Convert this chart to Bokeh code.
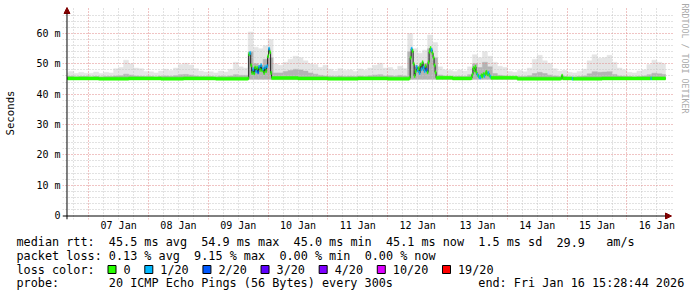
import numpy as np
import pandas as pd
from bokeh.plotting import figure
from bokeh.layouts import column
from bokeh.models import (Range1d, FixedTicker, Grid, Arrow, NormalHead, CustomJSTickFormatter,
                          DatetimeTickFormatter, ColumnDataSource, Title)
from bokeh.core.properties import value
from bokeh.embed import file_html
from bokeh.resources import INLINE

# ------------------------------------------------------------------ data
X_START = "2026-01-06 15:28:44"
X_END = "2026-01-16 15:28:44"
Y_TOP = 66.0

# smoke (spread of the 20 pings), 2-hour bins starting at SMOKE_START, in ms
SMOKE_START = "2026-01-06 14:00"
SMOKE_STEP_HOURS = 2
SMOKE_FLOOR = 44.9
smoke_hi = [
    47.0, 47.5, 46.8, 47.2, 46.9,                                              # 06 Jan
    46.9, 47.3, 46.8, 47.2, 47.0, 48.4, 48.8, 51.2, 50.0, 48.6, 48.4, 47.5,    # 07 Jan
    47.4, 47.0, 47.6, 48.2, 47.8, 48.6, 49.8, 50.2, 49.6, 48.4, 47.6, 47.3,    # 08 Jan
    47.4, 47.0, 47.6, 47.3, 48.2, 50.5, 49.0, 48.6, 60.5, 55.5, 55.0, 56.0,    # 09 Jan
    58.0, 50.0, 49.5, 50.5, 51.5, 52.5, 52.0, 51.0, 50.0, 49.8, 48.8, 49.5,    # 10 Jan
    48.2, 47.6, 48.4, 47.8, 48.0, 47.5, 48.3, 47.9, 48.6, 49.5, 50.2, 48.6,    # 11 Jan
    48.8, 48.0, 49.2, 48.5, 60.0, 55.0, 53.5, 54.5, 59.5, 57.0, 49.0, 48.0,    # 12 Jan
    47.8, 47.5, 48.0, 47.6, 49.0, 53.0, 52.0, 54.0, 52.5, 50.5, 49.2, 48.8,    # 13 Jan
    47.5, 47.2, 47.8, 47.4, 48.6, 51.5, 52.8, 51.0, 50.2, 48.4, 47.6, 47.8,    # 14 Jan
    47.2, 47.0, 47.5, 48.2, 51.0, 53.0, 51.8, 52.0, 52.8, 50.5, 48.6, 48.0,    # 15 Jan
    47.2, 47.0, 47.6, 48.0, 49.8, 51.2, 50.5, 50.0,                            # 16 Jan
]
smoke_mid = [
    45.8, 45.9, 45.7, 45.8, 45.8,
    45.7, 45.8, 45.7, 45.8, 45.8, 46.0, 46.1, 46.6, 46.3, 46.0, 45.9, 45.8,
    45.8, 45.7, 45.9, 46.0, 45.9, 46.1, 46.4, 46.5, 46.3, 46.0, 45.8, 45.8,
    45.8, 45.7, 45.9, 45.8, 46.0, 46.4, 46.2, 46.2, 54.0, 50.0, 49.5, 51.5,
    52.0, 47.0, 47.0, 47.5, 47.8, 48.2, 48.0, 47.6, 47.0, 46.6, 46.2, 46.0,
    45.9, 45.8, 46.0, 45.8, 45.9, 45.8, 46.0, 45.8, 46.1, 46.3, 46.4, 46.0,
    46.1, 45.9, 46.2, 46.0, 54.0, 49.5, 49.0, 50.0, 55.0, 52.0, 46.3, 45.9,
    45.8, 45.8, 45.9, 45.8, 46.4, 50.0, 48.8, 50.5, 49.0, 46.8, 46.2, 46.0,
    45.8, 45.7, 45.8, 45.8, 46.1, 46.8, 47.2, 46.8, 46.3, 46.0, 45.8, 45.8,
    45.7, 45.7, 45.8, 46.0, 46.7, 47.4, 47.2, 47.3, 47.4, 46.5, 46.0, 45.9,
    45.8, 45.7, 45.8, 46.0, 46.4, 46.9, 46.7, 46.5,
]

# median rtt (ms) and lost pings (out of 20); each value holds until the next time
median_time = [
    "2026-01-06 15:00", "2026-01-07 04:00", "2026-01-07 16:00", "2026-01-08 05:00",
    "2026-01-08 14:00", "2026-01-09 03:00",
    "2026-01-09 15:48", "2026-01-09 16:12", "2026-01-09 16:36", "2026-01-09 17:00",
    "2026-01-09 17:24", "2026-01-09 17:48", "2026-01-09 18:12", "2026-01-09 18:36",
    "2026-01-09 19:00", "2026-01-09 19:24", "2026-01-09 19:48", "2026-01-09 20:12",
    "2026-01-09 20:36", "2026-01-09 21:00", "2026-01-09 21:24", "2026-01-09 21:48",
    "2026-01-09 22:12", "2026-01-09 22:36", "2026-01-09 23:00", "2026-01-09 23:24",
    "2026-01-09 23:48", "2026-01-10 00:12", "2026-01-10 00:36", "2026-01-10 01:00",
    "2026-01-10 01:24",
    "2026-01-10 12:00", "2026-01-11 00:00", "2026-01-11 12:00", "2026-01-12 00:00",
    "2026-01-12 08:36", "2026-01-12 09:00", "2026-01-12 09:24", "2026-01-12 09:48",
    "2026-01-12 10:12", "2026-01-12 10:36", "2026-01-12 11:00", "2026-01-12 11:24",
    "2026-01-12 11:48", "2026-01-12 12:12", "2026-01-12 12:36", "2026-01-12 13:00",
    "2026-01-12 13:24", "2026-01-12 13:48", "2026-01-12 14:12", "2026-01-12 14:36",
    "2026-01-12 15:00", "2026-01-12 15:24", "2026-01-12 15:48", "2026-01-12 16:12",
    "2026-01-12 16:36", "2026-01-12 17:00", "2026-01-12 17:24", "2026-01-12 17:48",
    "2026-01-12 18:12", "2026-01-12 18:36", "2026-01-12 19:00", "2026-01-12 19:24",
    "2026-01-13 02:00",
    "2026-01-13 09:24", "2026-01-13 09:48", "2026-01-13 10:12", "2026-01-13 10:36",
    "2026-01-13 11:00", "2026-01-13 11:24", "2026-01-13 11:48", "2026-01-13 12:12",
    "2026-01-13 12:36", "2026-01-13 13:00", "2026-01-13 13:24", "2026-01-13 13:48",
    "2026-01-13 14:12", "2026-01-13 14:36", "2026-01-13 15:00", "2026-01-13 15:24",
    "2026-01-13 15:48", "2026-01-13 16:12", "2026-01-13 16:36", "2026-01-13 17:00",
    "2026-01-13 17:24",
    "2026-01-14 04:00", "2026-01-14 21:24", "2026-01-14 21:48", "2026-01-14 22:12",
    "2026-01-15 02:00", "2026-01-15 02:24", "2026-01-15 14:00", "2026-01-16 09:36",
    "2026-01-16 10:00",
]
median_ms = [
    45.2, 45.1, 45.2, 45.1, 45.2, 45.1,
    45.2, 53.2, 53.6, 49.5, 47.0, 48.2, 46.8, 48.8, 47.5, 48.6, 47.2, 49.0, 48.0,
    49.5, 47.8, 48.4, 47.0, 48.9, 47.6, 49.2, 52.5, 55.0, 53.8, 47.0, 45.3,
    45.2, 45.1, 45.2, 45.1,
    45.3, 52.0, 55.0, 54.2, 50.0, 46.0, 47.5, 49.0, 47.8, 48.5, 47.0, 49.8, 48.2,
    50.5, 48.8, 47.6, 49.4, 48.0, 47.2, 50.5, 54.0, 55.2, 54.6, 53.5, 52.0, 49.5,
    47.2, 45.4,
    45.2,
    45.3, 46.5, 48.6, 47.8, 49.0, 47.2, 46.4, 46.0, 45.6, 45.5, 46.2, 45.8, 46.6,
    46.0, 46.8, 47.4, 46.5, 47.0, 46.2, 45.8, 45.4,
    45.1, 45.2, 46.1, 45.2,
    45.1, 45.1, 45.2, 45.2, 45.2,
]
median_loss = [
    0, 0, 0, 0, 0, 0,
    0, 0, 1, 0, 0, 1, 0, 0, 1, 0, 2, 1, 0, 1, 0, 1, 0, 1, 0, 1, 0, 1, 0, 0, 0,
    0, 0, 0, 0,
    0, 0, 1, 0, 0, 0, 0, 1, 1, 0, 1, 0, 1, 0, 1, 1, 0, 2, 0, 0, 0, 0, 1, 0, 0, 0,
    0, 0,
    0,
    0, 0, 0, 0, 0, 0, 1, 0, 1, 1, 0, 0, 0, 1, 0, 0, 0, 1, 0, 1, 0,
    0, 0, 0, 0,
    1, 0, 0, 1, 0,
]

loss_levels = [0, 1, 2, 3, 4, 10, 19]
loss_labels = ["0", "1/20", "2/20", "3/20", "4/20", "10/20", "19/20"]
loss_colors = ["#26ff00", "#00b8ff", "#0059ff", "#5e00ff", "#7e00ff", "#dd00ff", "#ff0000"]

rtt_avg, rtt_max, rtt_min, rtt_now, rtt_sd, rtt_ams = 45.5, 54.9, 45.0, 45.1, 1.5, 29.9
loss_avg, loss_max, loss_min, loss_now = 0.13, 9.15, 0.00, 0.00
probe_text = "20 ICMP Echo Pings (56 Bytes) every 300s"
end_text = "end: Fri Jan 16 15:28:44 2026"

# ------------------------------------------------------------------ helpers
def ms(t):
    return pd.Timestamp(t).value / 1e6

W, H = 697, 297
MAIN_H = 233
DATA_L, DATA_R, ZERO_Y = 67, 667, 215          # where X_START, X_END and 0 ms sit
PX_PER_MS = 182.0 / 60.0                        # pixels per millisecond of rtt
FRAME_L, FRAME_R, FRAME_T, FRAME_B = 62, 676, 6, 219
T0, T1 = ms(X_START), ms(X_END)

def sx(px):
    return T0 + (px - DATA_L) * (T1 - T0) / (DATA_R - DATA_L)

def sy(py):
    return (ZERO_Y - py) / PX_PER_MS

def loss_color(n):
    for lev, col in zip(loss_levels, loss_colors):
        if n <= lev:
            return col
    return loss_colors[-1]

def no_align(fig):
    if "frame_align" in fig.properties():
        fig.frame_align = False

MONO = "DejaVu Sans Mono"

# ------------------------------------------------------------------ main figure
p = figure(width=W, height=MAIN_H, x_axis_type="datetime", output_backend="svg",
           toolbar_location=None, x_range=Range1d(sx(FRAME_L), sx(FRAME_R)),
           y_range=Range1d(sy(FRAME_B), sy(FRAME_T)),
           min_border_left=FRAME_L, min_border_right=W - FRAME_R,
           min_border_top=FRAME_T, min_border_bottom=MAIN_H - FRAME_B)
p.background_fill_color = "white"
p.border_fill_color = "white"
p.outline_line_color = None
no_align(p)

noon = [ms(t) for t in pd.date_range("2026-01-07 12:00", "2026-01-16 12:00", freq="D")]
xa = p.xaxis[0]
xa.ticker = FixedTicker(ticks=noon)
fmt = "%d %b"
xa.formatter = DatetimeTickFormatter(microseconds=fmt, milliseconds=fmt, seconds=fmt, minsec=fmt,
                                     minutes=fmt, hourmin=fmt, hours=fmt, days=fmt,
                                     months=fmt, years=fmt)
ya = p.yaxis[0]
ya.ticker = FixedTicker(ticks=[0, 10, 20, 30, 40, 50, 60])
ya.formatter = CustomJSTickFormatter(code="return tick == 0 ? '0' : tick.toFixed(0) + ' m';")
ya.axis_label = "Seconds"
ya.axis_label_text_font = MONO
ya.axis_label_text_font_size = "10.7px"
ya.axis_label_text_font_style = "normal"
ya.axis_label_text_color = "#000000"
ya.axis_label_standoff = 16
ya.major_label_standoff = 2
xa.major_label_standoff = 0
for ax in (xa, ya):
    ax.axis_line_color = None
    ax.major_tick_line_color = None
    ax.minor_tick_line_color = None
    ax.major_tick_out = 0
    ax.major_tick_in = 0
    ax.minor_tick_out = 0
    ax.minor_tick_in = 0
    ax.major_label_text_font = MONO
    ax.major_label_text_font_size = "10px"
    ax.major_label_text_color = "#000000"

# grids (minor grey every 6 h / 2 ms, major red every day / 10 ms)
p.xgrid.visible = False
p.ygrid.visible = False
midnights = [ms(t) for t in pd.date_range("2026-01-07", "2026-01-16", freq="D")]
six_h = [ms(t) for t in pd.date_range("2026-01-06 18:00", "2026-01-16 12:00", freq="6h")
         if t.hour != 0]
y_major = [10, 20, 30, 40, 50, 60]
y_minor = [v for v in range(2, 67, 2) if v % 10 != 0]
for dim, ticks, col in ((0, six_h, "#c4c4c4"), (1, y_minor, "#c4c4c4"),
                        (0, midnights, "#e08888"), (1, y_major, "#e08888")):
    p.add_layout(Grid(dimension=dim, ticker=FixedTicker(ticks=ticks), grid_line_color=col,
                      grid_line_width=1, grid_line_dash="1 2",
                      bounds=(0, Y_TOP) if dim == 0 else (T0, T1)))

# smoke
t_bins = pd.Timestamp(SMOKE_START) + pd.to_timedelta(np.arange(len(smoke_hi)) * SMOKE_STEP_HOURS, unit="h")
b_left = [max(ms(t), T0) for t in t_bins]
b_right = [min(ms(t + pd.Timedelta(hours=SMOKE_STEP_HOURS)), T1) for t in t_bins]
p.quad(left=b_left, right=b_right, bottom=SMOKE_FLOOR, top=smoke_hi,
       fill_color="#e5e5e5", line_color="#e5e5e5", line_width=0.5, level="image")
p.quad(left=b_left, right=b_right, bottom=SMOKE_FLOOR, top=smoke_mid,
       fill_color="#b4b4b4", line_color="#b4b4b4", line_width=0.5, level="image")

# median line (dark) and loss-coloured bands
mx = [max(ms(t), T0) for t in median_time] + [T1]
my = list(median_ms) + [median_ms[-1]]
p.step(x=mx, y=my, mode="after", line_color="#202020", line_width=1)
band = ColumnDataSource(dict(
    left=mx[:-1], right=mx[1:],
    bottom=[v - 0.5 for v in median_ms], top=[v + 0.5 for v in median_ms],
    color=[loss_color(n) for n in median_loss]))
p.quad(left="left", right="right", bottom="bottom", top="top", source=band,
       fill_color="color", line_color="color", line_width=0.5)

# axis lines with arrow heads
head = dict(size=6, fill_color="#800000", line_color="#800000")
p.add_layout(Arrow(x_start=sx(FRAME_L), y_start=sy(215.5), x_end=sx(673), y_end=sy(215.5),
                   line_color="#000000", line_width=1, end=NormalHead(**head)))
p.add_layout(Arrow(x_start=sx(66.5), y_start=sy(FRAME_B), x_end=sx(66.5), y_end=sy(7),
                   line_color="#000000", line_width=1, end=NormalHead(**head)))

# watermark on the right
p.add_layout(Title(text="RRDTOOL / TOBI OETIKER", align="left", text_font=MONO,
                   text_font_size="8.3px", text_font_style="normal", text_color="#aaaaaa",
                   standoff=11, offset=-3), "right")

# ------------------------------------------------------------------ text legend
q = figure(width=W, height=H - MAIN_H, output_backend="svg", toolbar_location=None,
           x_range=Range1d(0, W), y_range=Range1d(H, MAIN_H),
           x_axis_location=None, y_axis_location=None, min_border=0)
q.background_fill_color = "white"
q.border_fill_color = "white"
q.outline_line_color = None
q.grid.visible = False
no_align(q)

CW = 0.6021 * 11.8
L1, L2, L3, L4 = 241.5, 255.2, 269.0, 282.7
rows = [
    (0, L1, "median rtt:"), (13, L1, f"{rtt_avg:.1f} ms avg"), (26, L1, f"{rtt_max:.1f} ms max"),
    (39, L1, f"{rtt_min:.1f} ms min"), (52, L1, f"{rtt_now:.1f} ms now"),
    (65, L1, f"{rtt_sd:.1f} ms sd"), (76, L1, f"{rtt_ams:.1f}"), (83, L1, "am/s"),
    (0, L2, "packet loss:"), (13, L2, f"{loss_avg:.2f} % avg"), (25, L2, f"{loss_max:.2f} % max"),
    (37, L2, f"{loss_min:.2f} % min"), (49, L2, f"{loss_now:.2f} % now"),
    (0, L3, "loss color:"),
    (0, L4, "probe:"), (13, L4, probe_text), (65, L4, end_text),
]
tx = [16 + c * CW for c, _, _ in rows]
ty = [y for _, y, _ in rows]
tt = [s for _, _, s in rows]

# loss colour boxes and their labels
bx, lx = [], []
x = 108.0
for lab in loss_labels:
    bx.append(x)
    lx.append(x + 15)
    x += 15 + len(lab) * CW + 14.7
q.rect(x=[b + 3.5 for b in bx], y=[L3] * len(bx), width=8, height=8,
       fill_color=loss_colors, line_color="#000000", line_width=1)
tx += lx
ty += [L3] * len(lx)
tt += loss_labels

q.text(x=tx, y=ty, text=tt, text_font=value(MONO), text_font_size="11.8px",
       text_baseline="middle", text_align="left", text_color="#000000")

layout = column(p, q, spacing=0)
open("out.html", "w").write(file_html(layout, INLINE))
